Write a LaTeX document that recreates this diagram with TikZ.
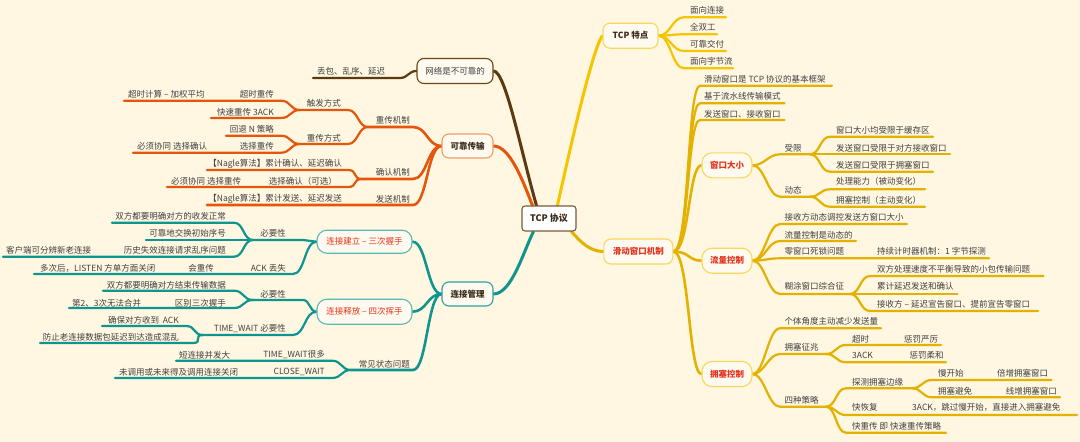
\documentclass[tikz,border=0pt]{standalone}
\usepackage{fontspec}
\setmainfont{Noto Sans CJK SC}
\usetikzlibrary{backgrounds}
\definecolor{bgc}{HTML}{FFF7E1}
\definecolor{boxf}{HTML}{FFFAEF}
\definecolor{txt}{HTML}{404040}
\definecolor{dtxt}{HTML}{3A2A1A}
\definecolor{redt}{HTML}{E5321D}
\definecolor{brn}{HTML}{5B3A10}
\definecolor{org}{HTML}{E4560C}
\definecolor{tea}{HTML}{10948E}
\definecolor{yel}{HTML}{F6C400}
\definecolor{gld}{HTML}{E3B100}
\definecolor{rootc}{HTML}{7A5A3A}
\definecolor{netb}{HTML}{6B4518}
\definecolor{relb}{HTML}{F29A62}
\definecolor{conb}{HTML}{2FA29C}
\definecolor{hsb}{HTML}{5BB8B2}
\definecolor{ylb}{HTML}{F8D75A}
\newcommand{\mmfont}{\fontsize{8.5}{10}\selectfont}
\tikzset{
  lf/.style={font=\mmfont, text=txt, inner sep=0pt},
  lw/.style={lf, anchor=west},
  le/.style={lf, anchor=east},
  bx/.style={draw, rounded corners=7pt, fill=boxf, line width=1.1pt, inner sep=0pt, font=\mmfont, text=txt},
  hb/.style={bx, font=\mmfont\bfseries, text=dtxt},
  rb/.style={bx, font=\mmfont\bfseries, text=redt},
  ln/.style={line width=2.2pt, line cap=round},
  lc/.style={to path={.. controls +(-#1,0) and +(#1,0) .. (\tikztotarget)}}, lc/.default=10,
  rc/.style={to path={.. controls +(#1,0) and +(-#1,0) .. (\tikztotarget)}}, rc/.default=10,
  tr/.style={to path={.. controls +(16,0) and +(-13,0) .. (\tikztotarget)}}
}
\begin{document}
\begin{tikzpicture}[x=1pt,y=-1pt]
\useasboundingbox (0,0) rectangle (1080,442);
% boxes
\node[bx,fill=white,draw=rootc,rounded corners=3pt,minimum width=54pt,minimum height=25pt,font=\fontsize{9}{10}\selectfont\bfseries,text=dtxt] (root) at (549,218.5) {TCP 协议};
\node[bx,draw=netb,minimum width=76pt,minimum height=25pt] (net) at (455,71) {网络是不可靠的};
\node[hb,draw=relb,minimum width=51pt,minimum height=24pt] (rel) at (467.5,146) {可靠传输};
\node[hb,draw=conb,minimum width=51pt,minimum height=24pt] (conn) at (467.5,294) {连接管理};
\node[bx,draw=hsb,text=redt,rounded corners=10pt,minimum width=95pt,minimum height=23pt] (est) at (364.5,241.7) {连接建立 – 三次握手};
\node[bx,draw=hsb,text=redt,rounded corners=10pt,minimum width=95pt,minimum height=25pt] (fin) at (364.5,311.7) {连接释放 – 四次挥手};
\node[hb,draw=ylb,minimum width=55pt,minimum height=25pt] (feat) at (630.5,35.7) {TCP 特点};
\node[rb,draw=ylb,minimum width=69pt,minimum height=25pt] (slide) at (638.3,251.5) {滑动窗口机制};
\node[rb,draw=ylb,rounded corners=10pt,minimum width=50pt,minimum height=25pt] (win) at (727,165.3) {窗口大小};
\node[rb,draw=ylb,rounded corners=10pt,minimum width=50pt,minimum height=25pt] (flow) at (727,260.7) {流量控制};
\node[rb,draw=ylb,rounded corners=10pt,minimum width=50pt,minimum height=25pt] (cong) at (727,374) {拥塞控制};
% left texts
\node[lw] (lost) at (317,71) {丢包、乱序、延迟};
\node[le] (tmo) at (274,94) {超时重传};
\node[lw] (tmoCalc) at (128,94) {超时计算 – 加权平均};
\node[le] (fastRt) at (274,112) {快速重传 3ACK};
\node[le] (trig) at (341,103) {触发方式};
\node[le] (retx) at (410,120) {重传机制};
\node[le] (gbn) at (274,129) {回退 N 策略};
\node[le] (rtMode) at (341,138) {重传方式};
\node[le] (sr) at (274,146.7) {选择重传};
\node[lw] (srNote) at (137,146.7) {必须协同 选择确认};
\node[le] (nagleAck) at (342,164) {【Nagle算法】累计确认、延迟确认};
\node[le] (ackMech) at (410,172.7) {确认机制};
\node[le] (sack) at (337,181.7) {选择确认（可选）};
\node[lw] (sackNote) at (171,181.7) {必须协同 选择重传};
\node[le] (nagleSnd) at (342,199) {【Nagle算法】累计发送、延迟发送};
\node[le] (sndMech) at (410,199) {发送机制};
\node[le] (bothOk) at (226,216) {双方都要明确对方的收发正常};
\node[le] (estNeed) at (286,233) {必要性};
\node[le] (isn) at (226,233) {可靠地交换初始序号};
\node[le] (oldReq) at (226,250.7) {历史失效连接请求乱序问题};
\node[lw] (oldNote) at (6,250.7) {客户端可分辨新老连接};
\node[le] (ackLost) at (286,268) {ACK 丢失};
\node[le] (resend) at (214,268) {会重传};
\node[lw] (listenCl) at (40,268) {多次后，LISTEN 方单方面关闭};
\node[le] (bothEnd) at (226,285.7) {双方都要明确对方结束传输数据};
\node[le] (finNeed) at (286,294.3) {必要性};
\node[le] (diff3) at (226,303) {区别三次握手};
\node[lw] (noMerge) at (72,303) {第2、3次无法合并};
\node[le] (twNeed) at (286,329) {TIME\_WAIT 必要性};
\node[le] (lastAck) at (179,320) {确保对方收到 \ ACK};
\node[le] (oldPkt) at (179,337) {防止老连接数据包延迟到达造成混乱};
\node[le] (states) at (410,364) {常见状态问题};
\node[le] (twMany) at (325,355) {TIME\_WAIT很多};
\node[lw] (shortCn) at (179,355) {短连接并发大};
\node[le] (cwait) at (325,372) {CLOSE\_WAIT};
\node[lw] (noClose) at (119,372) {未调用或未来得及调用连接关闭};
% right texts
\node[lw] (connOr) at (690,10.7) {面向连接};
\node[lw] (duplex) at (690,27) {全双工};
\node[lw] (deliver) at (690,44) {可靠交付};
\node[lw] (stream) at (690,61.7) {面向字节流};
\node[lw] (frame) at (704,79) {滑动窗口是 TCP 协议的基本框架};
\node[lw] (pipe) at (704,96.7) {基于流水线传输模式};
\node[lw] (sndRcv) at (704,114) {发送窗口、接收窗口};
\node[lw] (limit) at (784.5,148.3) {受限};
\node[lw] (bufLim) at (836,130) {窗口大小均受限于缓存区};
\node[lw] (rwndLim) at (836,148.3) {发送窗口受限于对方接收窗口};
\node[lw] (cwndLim) at (836,165.7) {发送窗口受限于拥塞窗口};
\node[lw] (dyn) at (784.5,190.7) {动态};
\node[lw] (passive) at (836,181.7) {处理能力（被动变化）};
\node[lw] (active) at (836,200) {拥塞控制（主动变化）};
\node[lw] (rcvCtl) at (784.5,217.7) {接收方动态调控发送方窗口大小};
\node[lw] (flowDyn) at (784.5,235) {流量控制是动态的};
\node[lw] (zeroWin) at (784.5,251.7) {零窗口死锁问题};
\node[lw] (persist) at (877,251.7) {持续计时器机制：1 字节探测};
\node[lw] (silly) at (784.5,286.7) {糊涂窗口综合征};
\node[lw] (smallPkt) at (877,269.3) {双方处理速度不平衡导致的小包传输问题};
\node[lw] (delayAck) at (877,286.7) {累计延迟发送和确认};
\node[lw] (rcvAdv) at (877,304.3) {接收方 – 延迟宣告窗口、提前宣告零窗口};
\node[lw] (reduce) at (784.5,321.7) {个体角度主动减少发送量};
\node[lw] (sign) at (784.5,347.7) {拥塞征兆};
\node[lw] (sgTmo) at (852,339.3) {超时};
\node[lw] (hard) at (904,339.3) {惩罚严厉};
\node[lw] (sg3ack) at (852,355.7) {3ACK};
\node[lw] (soft) at (909.5,355.7) {惩罚柔和};
\node[lw] (four) at (784.5,400) {四种策略};
\node[lw] (probe) at (852,382.3) {探测拥塞边缘};
\node[lw] (slow) at (938,373.3) {慢开始};
\node[lw] (dbl) at (997,373.3) {倍增拥塞窗口};
\node[lw] (avoid) at (938,391) {拥塞避免};
\node[lw] (lin) at (1005.6,391) {线增拥塞窗口};
\node[lw] (frec) at (852,407.7) {快恢复};
\node[lw] (frecNote) at (912,407.7) {3ACK，跳过慢开始，直接进入拥塞避免};
\node[lw] (frtx) at (852,426) {快重传 即 快速重传策略};
\begin{scope}[on background layer]
\fill[bgc] (0,0) rectangle (1080,442);
% to root
\draw[ln,brn,line width=3pt] (net.east) .. controls +(12,0) and +(-16,-56) .. ([xshift=15pt]root.north west);
\draw[ln,org,line width=3pt] (rel.east) .. controls +(16,0) and +(-10,-26) .. ([xshift=11pt]root.north west);
\draw[ln,tea,line width=3pt] (conn.east) .. controls +(18,0) and +(-10,20) .. ([xshift=12pt]root.south west);
\draw[ln,yel,line width=3pt] ([xshift=36pt]root.north west) .. controls +(10,-45) and +(-10,12) .. (feat.west);
\draw[ln,gld,line width=3pt] ([xshift=-5pt]root.south east) .. controls +(10,12) and +(-12,0) .. (slide.west);
% 网络是不可靠的
\draw[ln,brn] (net.west) to[lc=8] (400,78) -- (313,78);
% 可靠传输
\draw[ln,org,line width=2.6pt] (rel.west) to[lc=14] (413,127) -- (368,127) coordinate (rtJ);
\draw[ln,org] (rtJ) to[lc] (348,110) -- (300,110) coordinate (tfJ);
\draw[ln,org] (tfJ) to[lc] (281,100.7) -- (124,100.7);
\draw[ln,org] (tfJ) to[lc] (281,118) -- (211,118);
\draw[ln,org] (rtJ) to[lc] (348,144) -- (300,144) coordinate (rmJ);
\draw[ln,org] (rmJ) to[lc] (281,135.7) -- (226,135.7);
\draw[ln,org] (rmJ) to[lc] (281,152.7) -- (133,152.7);
\draw[ln,org,line width=2.6pt] (rel.west) to[lc=14] (413,179) -- (362,179) coordinate (akJ);
\draw[ln,org] (akJ) to[lc] (348,170) -- (207,170);
\draw[ln,org] (akJ) to[lc] (348,187) -- (167,187);
\draw[ln,org,line width=2.6pt] (rel.west) to[lc=14] (413,205) -- (207,205);
% 连接管理
\draw[ln,tea,line width=2.6pt] (conn.west) to[lc=14] (est.east);
\draw[ln,tea,line width=2.6pt] (conn.west) to[lc=14] (fin.east);
\draw[ln,tea,line width=2.6pt] (conn.west) to[lc=14] (413,370) -- (351,370) coordinate (csJ);
\draw[ln,tea] (est.west) to[lc=7] (303,240) -- (253,240) coordinate (e1J);
\draw[ln,tea] (e1J) to[lc] (234,222.7) -- (112,222.7);
\draw[ln,tea] (e1J) -- (146,240);
\draw[ln,tea] (e1J) to[lc] (234,256.7) -- (3,256.7);
\draw[ln,tea] (est.west) to[lc=12] (293,274) -- (34,274);
\draw[ln,tea] (fin.west) to[lc=7] (303,300) -- (253,300) coordinate (f1J);
\draw[ln,tea] (f1J) to[lc] (234,290.7) -- (103,290.7);
\draw[ln,tea] (f1J) to[lc] (234,308) -- (69,308);
\draw[ln,tea] (fin.west) to[lc=12] (293,335) -- (203,335) coordinate (f2J);
\draw[ln,tea] (f2J) to[lc] (186,326) -- (102,326);
\draw[ln,tea] (f2J) to[lc] (193,343) -- (40,343);
\draw[ln,tea] (csJ) to[lc] (332,360.7) -- (176,360.7);
\draw[ln,tea] (csJ) to[lc] (332,378) -- (115,378);
% TCP 特点
\draw[ln,yel] (feat.east) to[rc=12] (684,17.3) -- (726,17.3);
\draw[ln,yel] (feat.east) to[rc=12] (684,34.3) -- (717,34.3);
\draw[ln,yel] (feat.east) to[rc=12] (684,51) -- (726,51);
\draw[ln,yel] (feat.east) to[rc=12] (684,68.3) -- (733,68.3);
% 滑动窗口机制
\draw[ln,gld] (slide.east) to[tr] (700,85.7) -- (832,85.7);
\draw[ln,gld] (slide.east) to[tr] (700,103.3) -- (784.5,103.3);
\draw[ln,gld] (slide.east) to[tr] (700,120) -- (784.5,120);
\draw[ln,gld,line width=2.6pt] (slide.east) to[tr] (win.west);
\draw[ln,gld,line width=2.6pt] (slide.east) to[tr] (flow.west);
\draw[ln,gld,line width=2.6pt] (slide.east) to[tr] (cong.west);
\draw[ln,gld] (win.east) to[rc=12] (780,154.3) -- (810,154.3) coordinate (w1J);
\draw[ln,gld] (w1J) to[rc] (830,136.7) -- (933,136.7);
\draw[ln,gld] (w1J) -- (950,154.3);
\draw[ln,gld] (w1J) to[rc] (830,171.7) -- (933,171.7);
\draw[ln,gld] (win.east) to[rc=12] (780,196.7) -- (810,196.7) coordinate (w2J);
\draw[ln,gld] (w2J) to[rc] (830,189.3) -- (925,189.3);
\draw[ln,gld] (w2J) to[rc] (830,206.7) -- (925,206.7);
\draw[ln,gld] (flow.east) to[rc=12] (780,224) -- (907,224);
\draw[ln,gld] (flow.east) to[rc=12] (780,241) -- (856,241);
\draw[ln,gld] (flow.east) to[rc=12] (780,258.3) -- (989,258.3);
\draw[ln,gld] (flow.east) to[rc=12] (780,294) -- (850,294) coordinate (f3J);
\draw[ln,gld] (f3J) to[rc] (870,276) -- (1043.5,276);
\draw[ln,gld] (f3J) -- (957.4,294);
\draw[ln,gld] (f3J) to[rc] (870,311) -- (1038,311);
\draw[ln,gld] (cong.east) to[rc=12] (780,328.3) -- (881,328.3);
\draw[ln,gld] (cong.east) to[rc=12] (780,354) -- (826,354) coordinate (c1J);
\draw[ln,gld] (c1J) to[rc] (846,345) -- (941,345);
\draw[ln,gld] (c1J) to[rc] (846,362.3) -- (946,362.3);
\draw[ln,gld] (cong.east) to[rc=12] (780,406.7) -- (826,406.7) coordinate (c2J);
\draw[ln,gld] (c2J) to[rc] (846,388.3) -- (912,388.3) coordinate (c3J);
\draw[ln,gld] (c3J) to[rc] (932,380) -- (1051.4,380);
\draw[ln,gld] (c3J) to[rc] (932,397.3) -- (1060,397.3);
\draw[ln,gld] (c2J) to[rc] (846,415) -- (1077,415);
\draw[ln,gld] (c2J) to[rc] (846,432.7) -- (946,432.7);
\end{scope}
\end{tikzpicture}
\end{document}
